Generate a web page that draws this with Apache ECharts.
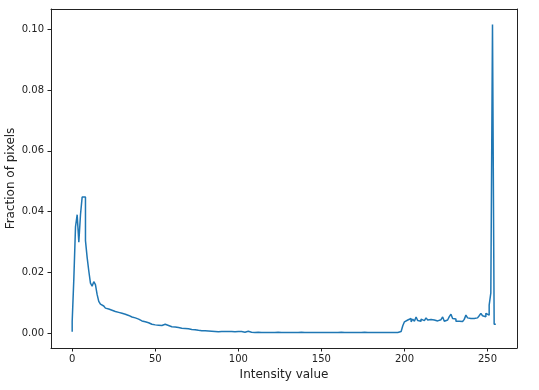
<!DOCTYPE html>
<html>
<head>
<meta charset="utf-8">
<script src="https://cdn.jsdelivr.net/npm/echarts@6/dist/echarts.min.js"></script>
<style>
html,body{margin:0;padding:0;background:#fff;}
#chart{width:539px;height:390px;}
</style>
</head>
<body>
<div id="chart"></div>
<script>
// Fraction of pixels for each intensity value 0..255
var fraction = [
  0.0005, 0.0038, 0.0180, 0.0350, 0.0390, 0.0300, 0.0390, 0.0448, 0.0448, 0.0305,
  0.0250, 0.0205, 0.0165, 0.0155, 0.0170, 0.0160, 0.0128, 0.0105, 0.0096, 0.0090,
  0.0086, 0.0083, 0.0080, 0.0078, 0.0076, 0.0074, 0.0072, 0.0071, 0.0069, 0.0067,
  0.0066, 0.0065, 0.0063, 0.0061, 0.0059, 0.0056, 0.0054, 0.0053, 0.0051, 0.0049,
  0.0047, 0.0044, 0.0041, 0.0040, 0.0038, 0.0037, 0.0035, 0.0033, 0.0030, 0.0029,
  0.0028, 0.0028, 0.0027, 0.0026, 0.0026, 0.0027, 0.0030, 0.0030, 0.0026, 0.0023,
  0.0022, 0.0022, 0.0021, 0.0020, 0.0019, 0.0018, 0.0017, 0.0016, 0.0016, 0.0015,
  0.0015, 0.0014, 0.0013, 0.0013, 0.0012, 0.0011, 0.0010, 0.0010, 0.0009, 0.0009,
  0.0009, 0.0008, 0.0008, 0.0008, 0.0007, 0.0006, 0.0006, 0.0006, 0.0005, 0.0006,
  0.0006, 0.0005, 0.0006, 0.0006, 0.0006, 0.0005, 0.0006, 0.0006, 0.0005, 0.0006,
  0.0006, 0.0005, 0.0006, 0.0005, 0.0004, 0.0003, 0.0007, 0.0006, 0.0004, 0.0003,
  0.0003, 0.0003, 0.0004, 0.0003, 0.0003, 0.0003, 0.0003, 0.0004, 0.0003, 0.0003,
  0.0003, 0.0003, 0.0003, 0.0003, 0.0004, 0.0003, 0.0003, 0.0003, 0.0003, 0.0003,
  0.0003, 0.0004, 0.0003, 0.0003, 0.0003, 0.0003, 0.0003, 0.0003, 0.0004, 0.0003,
  0.0003, 0.0003, 0.0003, 0.0004, 0.0003, 0.0003, 0.0003, 0.0003, 0.0003, 0.0003,
  0.0003, 0.0003, 0.0003, 0.0003, 0.0003, 0.0004, 0.0003, 0.0003, 0.0003, 0.0003,
  0.0003, 0.0003, 0.0004, 0.0003, 0.0003, 0.0003, 0.0003, 0.0003, 0.0003, 0.0004,
  0.0003, 0.0003, 0.0003, 0.0003, 0.0003, 0.0003, 0.0004, 0.0003, 0.0003, 0.0003,
  0.0003, 0.0004, 0.0003, 0.0003, 0.0003, 0.0003, 0.0003, 0.0003, 0.0003, 0.0003,
  0.0003, 0.0003, 0.0003, 0.0003, 0.0003, 0.0003, 0.0003, 0.0004, 0.0006, 0.0012,
  0.0025, 0.0038, 0.0044, 0.0040, 0.0049, 0.0038, 0.0047, 0.0040, 0.0054, 0.0042,
  0.0040, 0.0047, 0.0042, 0.0040, 0.0051, 0.0044, 0.0046, 0.0049, 0.0044, 0.0041,
  0.0041, 0.0041, 0.0045, 0.0049, 0.0054, 0.0040, 0.0044, 0.0049, 0.0055, 0.0063,
  0.0049, 0.0047, 0.0040, 0.0040, 0.0040, 0.0039, 0.0038, 0.0046, 0.0060, 0.0051,
  0.0049, 0.0051, 0.0049, 0.0049, 0.0051, 0.0051, 0.0058, 0.0066, 0.0058, 0.0055,
  0.0066, 0.0060, 0.0093, 0.0133, 0.1015, 0.0030
];
var intensity = fraction.map(function (_, i) { return i; });
var xTicks = [0, 50, 100, 150, 200, 250];
var yTicks = [0, 0.02, 0.04, 0.06, 0.08, 0.10];
var xLabel = 'Intensity value';
var yLabel = 'Fraction of pixels';

var points = intensity.map(function (x, i) { return [x, fraction[i]]; });

var chart = echarts.init(document.getElementById('chart'), null, {renderer: 'canvas'});
var font = 'DejaVu Sans';
chart.setOption({
  animation: false,
  backgroundColor: '#fff',
  grid: {
    left: 51, right: 22, top: 9, bottom: 42,
    show: false,
    containLabel: false, outerBoundsMode: 'none'
  },
  xAxis: [{
    type: 'value', position: 'bottom',
    min: -12.75, max: 267.75,
    splitLine: {show: false},
    axisLine: {show: true, onZero: false, lineStyle: {color: '#222', width: 1}},
    axisTick: {show: true, inside: false, length: 3.5, customValues: xTicks, lineStyle: {color: '#222', width: 1}},
    axisLabel: {customValues: xTicks, margin: 6, color: '#222', fontSize: 10, fontFamily: font},
    name: xLabel, nameLocation: 'middle', nameGap: 21, nameMoveOverlap: false,
    nameTextStyle: {fontSize: 12, color: '#222', fontFamily: font}
  }, {
    type: 'value', position: 'top',
    min: -12.75, max: 267.75,
    splitLine: {show: false},
    axisLine: {show: true, onZero: false, lineStyle: {color: '#222', width: 1}},
    axisTick: {show: false}, axisLabel: {show: false}
  }],
  yAxis: [{
    type: 'value', position: 'left',
    min: -0.0048, max: 0.1066,
    splitLine: {show: false},
    axisLine: {show: true, onZero: false, lineStyle: {color: '#222', width: 1}},
    axisTick: {show: true, inside: false, length: 3.5, customValues: yTicks, lineStyle: {color: '#222', width: 1}},
    axisLabel: {customValues: yTicks, margin: 7, color: '#222', fontSize: 10, fontFamily: font,
      formatter: function (v) { return v.toFixed(2); }},
    name: yLabel, nameLocation: 'middle', nameGap: 34, nameRotate: 90, nameMoveOverlap: false,
    nameTextStyle: {fontSize: 12, color: '#222', fontFamily: font}
  }, {
    type: 'value', position: 'right',
    min: -0.0048, max: 0.1066,
    splitLine: {show: false},
    axisLine: {show: true, onZero: false, lineStyle: {color: '#222', width: 1}},
    axisTick: {show: false}, axisLabel: {show: false}
  }],
  series: [{
    type: 'line',
    step: 'start',
    data: points,
    showSymbol: false,
    symbol: 'none',
    lineStyle: {color: '#1f77b4', width: 1.5},
    clip: true
  }]
});
</script>
</body>
</html>
